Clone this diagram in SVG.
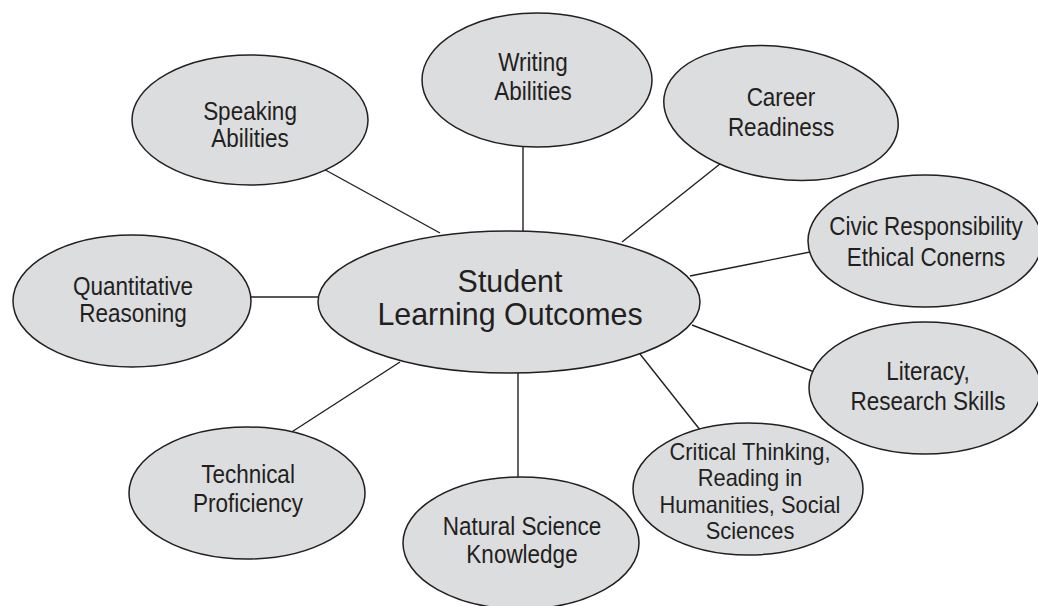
<svg xmlns="http://www.w3.org/2000/svg" width="1038" height="606" viewBox="0 0 1038 606">
<style>
.n{fill:#dcdddf;stroke:#231f20;stroke-width:1.5}
.c line{stroke:#231f20;stroke-width:1.4}
text{font-family:"Liberation Sans",Arial,Helvetica,sans-serif;fill:#231f20;text-anchor:middle}
.s{font-size:25px}
.t{font-size:23px}
.m{font-size:32px}
</style>
<rect width="1038" height="606" fill="#ffffff"/>
<g id="connectors" class="c">
<line x1="523" y1="231" x2="523" y2="120"/>
<line x1="622" y1="242" x2="730" y2="156"/>
<line x1="440" y1="233" x2="320" y2="167"/>
<line x1="690" y1="276" x2="830" y2="248"/>
<line x1="318" y1="297" x2="230" y2="297"/>
<line x1="692" y1="325" x2="830" y2="378"/>
<line x1="400" y1="362" x2="270" y2="446"/>
<line x1="518" y1="372" x2="518" y2="500"/>
<line x1="640" y1="354" x2="712" y2="445"/>
</g>
<g id="writing"><ellipse class="n" cx="537" cy="80" rx="115" ry="67"/><g transform="translate(533 0) scale(0.9 1)"><text class="s" x="0" y="71">Writing</text><text class="s" x="0" y="100">Abilities</text></g></g>
<g id="career"><ellipse class="n" cx="781" cy="113" rx="118" ry="66" transform="rotate(8 781 113)"/><g transform="translate(781 0) scale(0.9 1)"><text class="s" x="0" y="106">Career</text><text class="s" x="0" y="136">Readiness</text></g></g>
<g id="speaking"><ellipse class="n" cx="250" cy="120" rx="118" ry="65"/><g transform="translate(250 0) scale(0.9 1)"><text class="s" x="0" y="120">Speaking</text><text class="s" x="0" y="147">Abilities</text></g></g>
<g id="civic"><ellipse class="n" cx="925" cy="241" rx="117" ry="66"/><g transform="translate(926 0) scale(0.9 1)"><text class="s" x="0" y="235">Civic Responsibility</text><text class="s" x="0" y="266">Ethical Conerns</text></g></g>
<g id="quantitative"><ellipse class="n" cx="132" cy="301" rx="119" ry="66"/><g transform="translate(133 0) scale(0.9 1)"><text class="s" x="0" y="295">Quantitative</text><text class="s" x="0" y="322">Reasoning</text></g></g>
<g id="center"><ellipse class="n" cx="509" cy="302" rx="191" ry="71"/><g transform="translate(510 0) scale(0.95 1)"><text class="m" x="0" y="292">Student</text><text class="m" x="0" y="325">Learning Outcomes</text></g></g>
<g id="literacy"><ellipse class="n" cx="925" cy="388" rx="116" ry="66"/><g transform="translate(928 0) scale(0.9 1)"><text class="s" x="0" y="380">Literacy,</text><text class="s" x="0" y="410">Research Skills</text></g></g>
<g id="technical"><ellipse class="n" cx="247" cy="493" rx="118" ry="66"/><g transform="translate(248 0) scale(0.9 1)"><text class="s" x="0" y="483">Technical</text><text class="s" x="0" y="512">Proficiency</text></g></g>
<g id="critical"><ellipse class="n" cx="748" cy="489" rx="115" ry="66"/><g transform="translate(750 0) scale(0.95 1)"><text class="t" x="0" y="460">Critical Thinking,</text><text class="t" x="0" y="486.5">Reading in</text><text class="t" x="0" y="513">Humanities, Social</text><text class="t" x="0" y="539.5">Sciences</text></g></g>
<g id="natural"><ellipse class="n" cx="521" cy="543" rx="118" ry="66"/><g transform="translate(522 0) scale(0.9 1)"><text class="s" x="0" y="535">Natural Science</text><text class="s" x="0" y="563">Knowledge</text></g></g>
</svg>
